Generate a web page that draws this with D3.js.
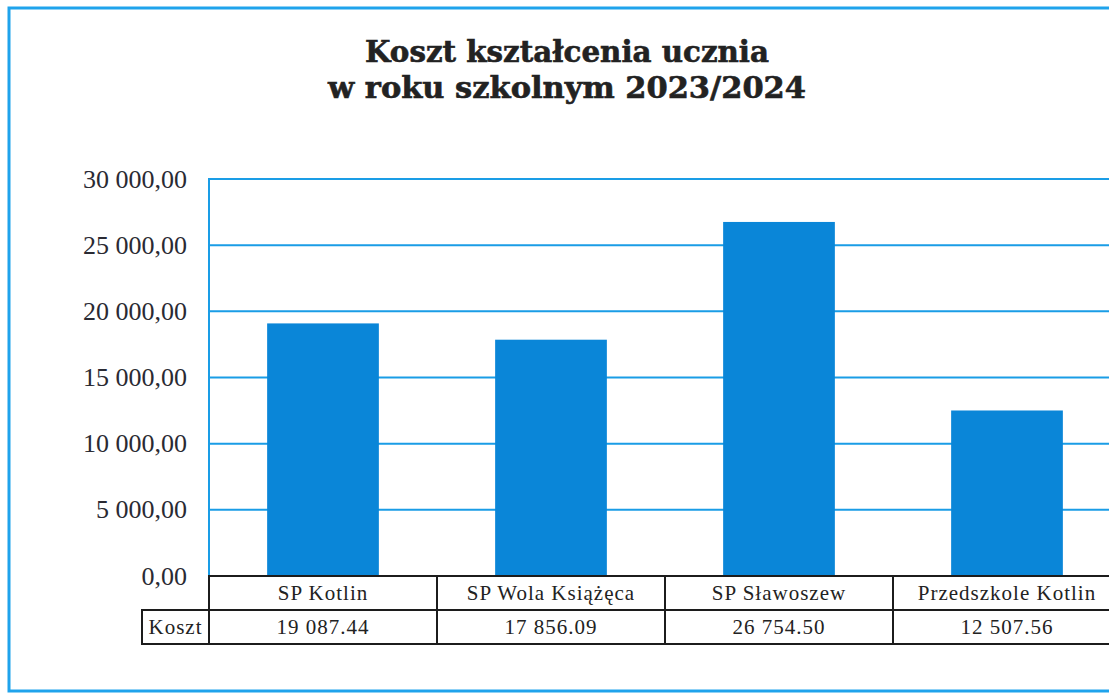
<!DOCTYPE html>
<html>
<head>
<meta charset="utf-8">
<script src="https://cdn.jsdelivr.net/npm/d3@7"></script>
<style>
  body { margin: 0; background: #fff; }
  svg { display: block; }
</style>
</head>
<body>
<div id="chart"></div>
<script>
// data
var categories = ["SP Kotlin", "SP Wola Książęca", "SP Sławoszew", "Przedszkole Kotlin"];
var costs = [19087.44, 17856.09, 26754.50, 12507.56];
var yTicks = [0, 5000, 10000, 15000, 20000, 25000, 30000];
var titleLines = ["Koszt kształcenia ucznia", "w roku szkolnym 2023/2024"];
var titleWidths = [404, 478];
var rowLabel = "Koszt";

var width = 1109, height = 694;
var plotLeft = 209, plotRight = 1121, plotTop = 179, plotBottom = 576;
var rowH = 34;

var svg = d3.select("#chart").append("svg")
  .attr("width", width)
  .attr("height", height);

// outer frame (runs past the right edge like the scan)
svg.append("rect")
  .attr("x", 9).attr("y", 8)
  .attr("width", 1150).attr("height", 683)
  .attr("fill", "none")
  .attr("stroke", "#1fa3ec")
  .attr("stroke-width", 3);

// title
svg.append("g").selectAll("text")
  .data(titleLines)
  .enter().append("text")
  .attr("x", 567)
  .attr("y", function(d, i) { return 62 + i * 36; })
  .attr("text-anchor", "middle")
  .attr("font-family", "'DejaVu Serif', serif")
  .attr("font-weight", "bold")
  .attr("font-size", 29)
  .attr("textLength", function(d, i) { return titleWidths[i]; })
  .attr("lengthAdjust", "spacingAndGlyphs")
  .attr("fill", "#222")
  .attr("stroke", "#222")
  .attr("stroke-width", 0.6)
  .text(function(d) { return d; });

// scales
var x = d3.scaleBand().domain(categories).range([plotLeft, plotRight]).padding(0);
var y = d3.scaleLinear().domain([0, 30000]).range([plotBottom, plotTop]);

var plLocale = d3.formatLocale({decimal: ",", thousands: " ", grouping: [3], currency: ["", ""]});
var tableLocale = d3.formatLocale({decimal: ".", thousands: " ", grouping: [3], currency: ["", ""]});
var tickFmt = plLocale.format(",.2f");
var valFmt = tableLocale.format(",.2f");

// gridlines
svg.append("g").selectAll("line")
  .data(yTicks.filter(function(d) { return d > 0; }))
  .enter().append("line")
  .attr("x1", plotLeft).attr("x2", width)
  .attr("y1", function(d) { return y(d); })
  .attr("y2", function(d) { return y(d); })
  .attr("stroke", "#1a9de6")
  .attr("stroke-width", 2);

// left axis line
svg.append("line")
  .attr("x1", plotLeft).attr("x2", plotLeft)
  .attr("y1", y(30000) - 1).attr("y2", plotBottom)
  .attr("stroke", "#1a9de6")
  .attr("stroke-width", 2);

// y labels
svg.append("g").selectAll("text")
  .data(yTicks)
  .enter().append("text")
  .attr("x", 187)
  .attr("y", function(d) { return y(d); })
  .attr("dy", "0.33em")
  .attr("text-anchor", "end")
  .attr("font-family", "'Liberation Serif', serif")
  .attr("font-size", 26)
  .attr("fill", "#2a2a33")
  .text(function(d) { return tickFmt(d); });

// bars
var barW = x.bandwidth() * 0.49;
svg.append("g").selectAll("rect")
  .data(costs)
  .enter().append("rect")
  .attr("x", function(d, i) { return x(categories[i]) + (x.bandwidth() - barW) / 2; })
  .attr("y", function(d) { return y(d); })
  .attr("width", barW)
  .attr("height", function(d) { return plotBottom - y(d); })
  .attr("fill", "#0a86d8");

// data table under the plot
var table = svg.append("g")
  .attr("stroke", "#1c1c1c")
  .attr("stroke-width", 2)
  .attr("fill", "none");

table.append("rect")
  .attr("x", plotLeft).attr("y", plotBottom)
  .attr("width", plotRight - plotLeft).attr("height", rowH * 2);
table.append("rect")
  .attr("x", 142).attr("y", plotBottom + rowH)
  .attr("width", plotLeft - 142).attr("height", rowH);
table.append("line")
  .attr("x1", plotLeft).attr("x2", plotRight)
  .attr("y1", plotBottom + rowH).attr("y2", plotBottom + rowH);
table.selectAll("line.col")
  .data(categories.slice(1))
  .enter().append("line")
  .attr("class", "col")
  .attr("x1", function(d) { return x(d); })
  .attr("x2", function(d) { return x(d); })
  .attr("y1", plotBottom).attr("y2", plotBottom + rowH * 2);

var cellText = svg.append("g")
  .attr("font-family", "'Liberation Serif', serif")
  .attr("font-size", 21)
  .attr("letter-spacing", 1)
  .attr("fill", "#222")
  .attr("text-anchor", "middle");

cellText.selectAll("text.cat")
  .data(categories)
  .enter().append("text")
  .attr("class", "cat")
  .attr("x", function(d) { return x(d) + x.bandwidth() / 2; })
  .attr("y", plotBottom + rowH / 2)
  .attr("dy", "0.35em")
  .text(function(d) { return d; });

cellText.selectAll("text.val")
  .data(costs)
  .enter().append("text")
  .attr("class", "val")
  .attr("x", function(d, i) { return x(categories[i]) + x.bandwidth() / 2; })
  .attr("y", plotBottom + rowH * 1.5)
  .attr("dy", "0.35em")
  .text(function(d) { return valFmt(d); });

cellText.append("text")
  .attr("x", (142 + plotLeft) / 2)
  .attr("y", plotBottom + rowH * 1.5)
  .attr("dy", "0.35em")
  .text(rowLabel);
</script>
</body>
</html>
